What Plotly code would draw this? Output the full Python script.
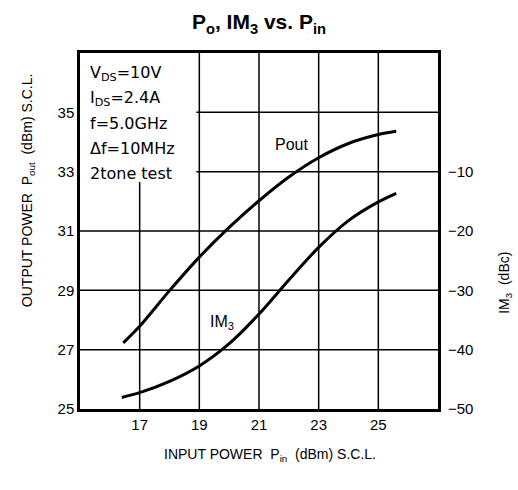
import plotly.graph_objects as go

# ---------------------------------------
# Data
# ---------------------------------------
pin_pout = [16.45, 17.0, 18.0, 19.0, 20.0, 21.0, 22.0, 23.0, 24.0, 25.0, 25.6]
pout = [27.23, 27.79, 28.99, 30.12, 31.12, 32.02, 32.82, 33.47, 33.95, 34.25, 34.36]

pin_im3 = [16.4, 17.0, 18.0, 19.0, 20.0, 21.0, 22.0, 23.0, 24.0, 25.0, 25.6]
im3 = [-48.05, -47.25, -45.35, -42.75, -39.0, -34.0, -28.25, -22.75, -18.25, -15.1, -13.65]

x_ticks = [17, 19, 21, 23, 25]
y_ticks = [25, 27, 29, 31, 33, 35]
y2_ticks = [-50, -40, -30, -20, -10]
y2_labels = ["\u221250", "\u221240", "\u221230", "\u221220", "\u221210"]
grid_x = [17, 19, 21, 23, 25]
grid_y = [27, 29, 31, 33, 35]

conditions = ["V<sub>DS</sub>=10V", "I<sub>DS</sub>=2.4A", "f=5.0GHz", "Δf=10MHz", "2tone test"]

FONT = "Liberation Sans, Arial, sans-serif"
WIDE = "DejaVu Sans, sans-serif"
X_RANGE = [15, 27]
Y_RANGE = [25, 37]
Y2_RANGE = [-50, 10]

fig = go.Figure()

fig.add_trace(
    go.Scatter(
        x=pin_pout, y=pout, mode="lines", name="Pout",
        line=dict(color="black", width=3, shape="spline", smoothing=0.8),
    )
)
fig.add_trace(
    go.Scatter(
        x=pin_im3, y=im3, mode="lines", name="IM3", yaxis="y2",
        line=dict(color="black", width=3, shape="spline", smoothing=0.8),
    )
)

# grid lines (the upper-left box holding the test conditions is left clear)
shapes = []
for gx in grid_x:
    top = 32.65 if gx == 17 else Y_RANGE[1]
    shapes.append(dict(type="line", xref="x", yref="y", x0=gx, x1=gx, y0=Y_RANGE[0], y1=top,
                       line=dict(color="black", width=1.5), layer="below"))
for gy in grid_y:
    left = 18.9 if gy >= 33 else X_RANGE[0]
    shapes.append(dict(type="line", xref="x", yref="y", x0=left, x1=X_RANGE[1], y0=gy, y1=gy,
                       line=dict(color="black", width=1.5), layer="below"))

annotations = []
for i, txt in enumerate(conditions):
    annotations.append(dict(
        xref="paper", yref="paper", x=0.022, y=0.943 - i * 0.0705, xanchor="left", yanchor="middle",
        text=txt, showarrow=False, font=dict(size=16, family=WIDE, color="black"),
    ))

annotations += [
    dict(xref="x", yref="y", x=22.1, y=33.9, text="Pout", showarrow=False,
         font=dict(size=16, family=FONT, color="black")),
    dict(xref="x", yref="y", x=19.75, y=27.9, text="IM<sub>3</sub>", showarrow=False,
         font=dict(size=16, family=FONT, color="black")),
    dict(xref="paper", yref="paper", x=-0.145, y=0.615, xanchor="center", yanchor="middle",
         text="OUTPUT POWER  P<sub>out</sub>  (dBm) S.C.L.", textangle=-90, showarrow=False,
         font=dict(size=14, family=FONT, color="black")),
    dict(xref="paper", yref="paper", x=1.185, y=0.355, xanchor="center", yanchor="middle",
         text="IM<sub>3</sub>  (dBc)", textangle=-90, showarrow=False,
         font=dict(size=14, family=FONT, color="black")),
    dict(xref="paper", yref="paper", x=0.53, y=-0.13, xanchor="center", yanchor="middle",
         text="INPUT POWER  P<sub>in</sub>  (dBm) S.C.L.", showarrow=False,
         font=dict(size=14, family=FONT, color="black")),
]

fig.update_layout(
    width=518,
    height=490,
    margin=dict(l=80, r=80, t=53, b=81),
    paper_bgcolor="white",
    plot_bgcolor="white",
    showlegend=False,
    title=dict(
        text="<b>P<sub>o</sub>, IM<sub>3</sub> vs. P<sub>in</sub></b>",
        x=0.5, xanchor="center", y=0.955, yanchor="middle",
        font=dict(size=21, family=FONT, color="black"),
    ),
    xaxis=dict(
        range=X_RANGE, tickvals=x_ticks, showgrid=False, zeroline=False,
        showline=True, mirror=True, linecolor="black", linewidth=2.5,
        ticks="", tickfont=dict(size=15, family=FONT, color="black"),
    ),
    yaxis=dict(
        range=Y_RANGE, tickvals=y_ticks, showgrid=False, zeroline=False,
        showline=True, mirror=True, linecolor="black", linewidth=2.5,
        ticks="", tickfont=dict(size=15, family=FONT, color="black"),
    ),
    yaxis2=dict(
        range=Y2_RANGE, tickvals=y2_ticks, ticktext=y2_labels, overlaying="y", side="right",
        showgrid=False, zeroline=False, showline=False,
        ticks="", ticklabelstandoff=9, tickfont=dict(size=15, family=FONT, color="black"),
    ),
    shapes=shapes,
    annotations=annotations,
)

# the page body has an 8px default margin; drop it so the figure sits at the window corner
fig.write_html("out.html", config={"displayModeBar": False},
               post_script="document.body.style.margin='0';")
